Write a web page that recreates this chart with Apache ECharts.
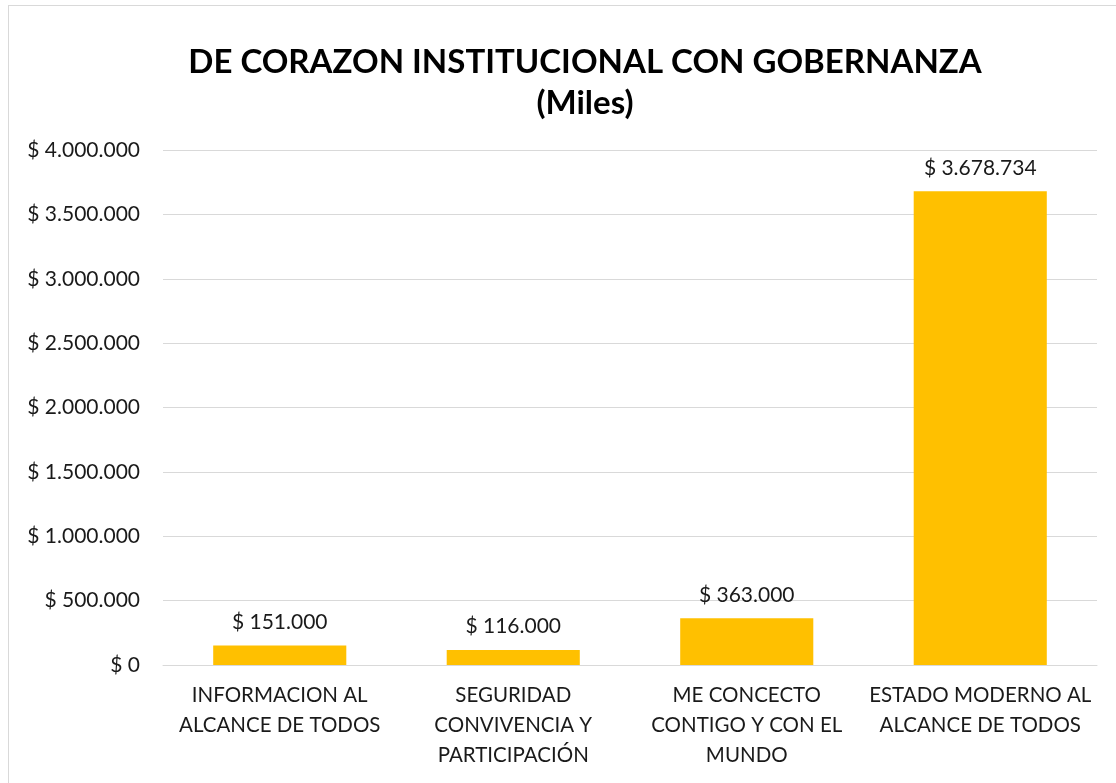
<!DOCTYPE html>
<html>
<head>
<meta charset="utf-8">
<script src="https://cdn.jsdelivr.net/npm/echarts@6/dist/echarts.min.js"></script>
<style>
  html, body { margin: 0; padding: 0; background: #fff; }
  #frame { position: absolute; left: 8px; top: 5px; width: 1120px; height: 790px; border: 1px solid #d9d9d9; box-sizing: border-box; }
  #chart { position: absolute; left: 0; top: 0; width: 1116px; height: 783px; }
</style>
</head>
<body>
<div id="frame"></div>
<div id="chart"></div>
<script>
// Programas del componente "De corazón institucional con gobernanza" (miles de pesos)
const categories = [
  'INFORMACION AL\nALCANCE DE TODOS',
  'SEGURIDAD\nCONVIVENCIA Y\nPARTICIPACIÓN',
  'ME CONCECTO\nCONTIGO Y CON EL\nMUNDO',
  'ESTADO MODERNO AL\nALCANCE DE TODOS'
];
const values = [151000, 116000, 363000, 3678734];
const titleLines = ['DE CORAZON INSTITUCIONAL CON GOBERNANZA', '(Miles)'];

const FONT = 'Lato, "Open Sans", sans-serif';

function pesos(v) {
  return '$ ' + String(Math.round(v)).replace(/\B(?=(\d{3})+(?!\d))/g, '.');
}

const chart = echarts.init(document.getElementById('chart'), null, { renderer: 'canvas' });
chart.setOption({
  animation: false,
  backgroundColor: 'transparent',
  title: {
    text: titleLines.join('\n'),
    left: 580,
    top: 37,
    textAlign: 'center',
    textStyle: {
      fontFamily: FONT,
      fontSize: 33,
      fontWeight: 'bold',
      color: '#000',
      lineHeight: 41
    }
  },
  grid: { left: 163, right: 19, top: 150, bottom: 118, containLabel: false },
  xAxis: {
    type: 'category',
    data: categories,
    axisTick: { show: false },
    axisLine: { show: true, lineStyle: { color: '#d9d9d9', width: 1 } },
    axisLabel: {
      margin: 15,
      interval: 0,
      fontFamily: FONT,
      fontSize: 20.5,
      lineHeight: 30,
      color: '#1a1a1a',
      align: 'center'
    }
  },
  yAxis: {
    type: 'value',
    min: 0,
    max: 4000000,
    interval: 500000,
    axisLine: { show: false },
    axisTick: { show: false },
    splitLine: { lineStyle: { color: '#d9d9d9', width: 1 } },
    axisLabel: {
      margin: 23,
      fontFamily: FONT,
      fontSize: 21,
      color: '#1a1a1a',
      formatter: pesos
    }
  },
  series: [{
    type: 'bar',
    data: values,
    barWidth: '57%',
    itemStyle: { color: '#FFC000' },
    label: {
      show: true,
      position: 'top',
      distance: 13,
      fontFamily: FONT,
      fontSize: 21,
      color: '#1a1a1a',
      formatter: p => pesos(p.value)
    }
  }]
});
</script>
</body>
</html>
